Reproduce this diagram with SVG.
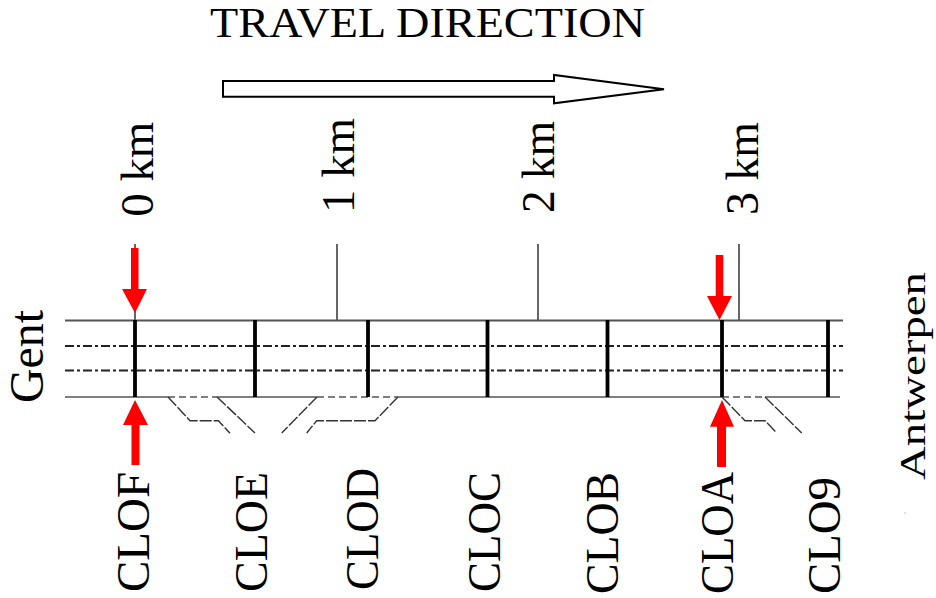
<svg xmlns="http://www.w3.org/2000/svg" width="936" height="598" viewBox="0 0 936 598">
<style>
text{font-family:"Liberation Serif","Times New Roman",serif;fill:#000}
.rail{stroke:#555;fill:none}
.mid{stroke:#222;stroke-width:1.8;stroke-dasharray:9 3 3 3;fill:none}
.bar{stroke:#000;stroke-width:3.8}
.tick{stroke:#333;stroke-width:1.5}
.sw{stroke:#333;stroke-width:1.4;fill:none;stroke-dasharray:12 2}
.swd{stroke:#555;stroke-width:1.4;stroke-dasharray:7 4}
.red{fill:#ff0000}
.lbl{font-size:47px}
</style>
<rect width="936" height="598" fill="#fff"/>
<g id="title">
<text x="210" y="37" font-size="42" textLength="435" lengthAdjust="spacingAndGlyphs">TRAVEL DIRECTION</text>
<polygon points="223,81 554,81 554,75 664,89.3 554,103.3 554,96.7 223,96.7" fill="#fff" stroke="#000" stroke-width="2"/>
</g>
<g id="km-ticks">
<line class="tick" x1="135" y1="244" x2="135" y2="320"/>
<line class="tick" x1="337" y1="244" x2="337" y2="320"/>
<line class="tick" x1="538" y1="244" x2="538" y2="320"/>
<line class="tick" x1="739" y1="244" x2="739" y2="320"/>
<text class="lbl" transform="translate(153,216.7) rotate(-90)" textLength="95" lengthAdjust="spacingAndGlyphs">0 km</text>
<text class="lbl" transform="translate(354,213) rotate(-90)" textLength="95" lengthAdjust="spacingAndGlyphs">1 km</text>
<text class="lbl" transform="translate(554,213) rotate(-90)" textLength="92" lengthAdjust="spacingAndGlyphs">2 km</text>
<text class="lbl" transform="translate(758,215) rotate(-90)" textLength="93" lengthAdjust="spacingAndGlyphs">3 km</text>
</g>
<g id="track">
<line class="rail" stroke-width="2.2" x1="65" y1="320.5" x2="843" y2="320.5"/>
<line class="mid" x1="65" y1="346" x2="843" y2="346"/>
<line class="mid" x1="65" y1="370.5" x2="843" y2="370.5"/>
<line class="rail" stroke-width="1.6" x1="65" y1="397" x2="168" y2="397"/>
<line class="swd" x1="168" y1="397" x2="217" y2="397"/>
<line class="rail" stroke-width="1.6" x1="217" y1="397" x2="317" y2="397"/>
<line class="swd" x1="317" y1="397" x2="398" y2="397"/>
<line class="rail" stroke-width="1.6" x1="398" y1="397" x2="722" y2="397"/>
<line class="swd" x1="722" y1="397" x2="765" y2="397"/>
<line class="rail" stroke-width="1.6" x1="765" y1="397" x2="840" y2="397"/>
</g>
<g id="switches">
<polyline class="sw" points="168,397 190,420.7 218.3,420.7 230,433.3"/>
<line class="sw" x1="217" y1="397" x2="255" y2="433"/>
<line class="sw" x1="317" y1="397" x2="281.7" y2="433"/>
<polyline class="sw" points="398,397 375,420.7 316.7,420.7 306.7,433"/>
<polyline class="sw" points="722,397 745,420.7 765,420.7 776.7,433"/>
<line class="sw" x1="765" y1="397" x2="801.7" y2="433"/>
</g>
<g id="CLOF"><line class="bar" x1="135" y1="320" x2="135" y2="397"/><text class="lbl" transform="translate(149,592) rotate(-90)" textLength="120" lengthAdjust="spacingAndGlyphs">CLOF</text></g>
<g id="CLOE"><line class="bar" x1="255" y1="320" x2="255" y2="397"/><text class="lbl" transform="translate(266.5,592) rotate(-90)" textLength="120" lengthAdjust="spacingAndGlyphs">CLOE</text></g>
<g id="CLOD"><line class="bar" x1="368" y1="320" x2="368" y2="397"/><text class="lbl" transform="translate(378,590) rotate(-90)" textLength="122" lengthAdjust="spacingAndGlyphs">CLOD</text></g>
<g id="CLOC"><line class="bar" x1="487.5" y1="320" x2="487.5" y2="397"/><text class="lbl" transform="translate(500,592) rotate(-90)" textLength="120" lengthAdjust="spacingAndGlyphs">CLOC</text></g>
<g id="CLOB"><line class="bar" x1="607.5" y1="320" x2="607.5" y2="397"/><text class="lbl" transform="translate(618,594) rotate(-90)" textLength="122" lengthAdjust="spacingAndGlyphs">CLOB</text></g>
<g id="CLOA"><line class="bar" x1="722" y1="320" x2="722" y2="397"/><text class="lbl" transform="translate(733,594) rotate(-90)" textLength="122" lengthAdjust="spacingAndGlyphs">CLOA</text></g>
<g id="CLO9"><line class="bar" x1="828" y1="320" x2="828" y2="397"/><text class="lbl" transform="translate(840,594) rotate(-90)" textLength="117" lengthAdjust="spacingAndGlyphs">CLO9</text></g>
<g id="Gent"><text transform="translate(43,403) rotate(-90)" font-size="48" textLength="93" lengthAdjust="spacingAndGlyphs">Gent</text></g>
<g id="Antwerpen"><text transform="translate(925,480) rotate(-90)" font-size="35" textLength="208" lengthAdjust="spacingAndGlyphs">Antwerpen</text></g>
<g id="markers">
<polygon class="red" points="131,248 138.5,248 138.5,289 147,289 135,313 122,289 131,289"/>
<polygon class="red" points="131.5,465 139.5,465 139.5,425 148,425 135,400 123,425 131.5,425"/>
<polygon class="red" points="715.7,255 723.3,255 723.3,296 732,296 719.5,320 707,296 715.7,296"/>
<polygon class="red" points="717,467 726,467 726,426.7 734,426.7 722,400 710,426.7 717,426.7"/>
</g>
<circle cx="905" cy="513" r="0.8" fill="#bbb"/>
</svg>
